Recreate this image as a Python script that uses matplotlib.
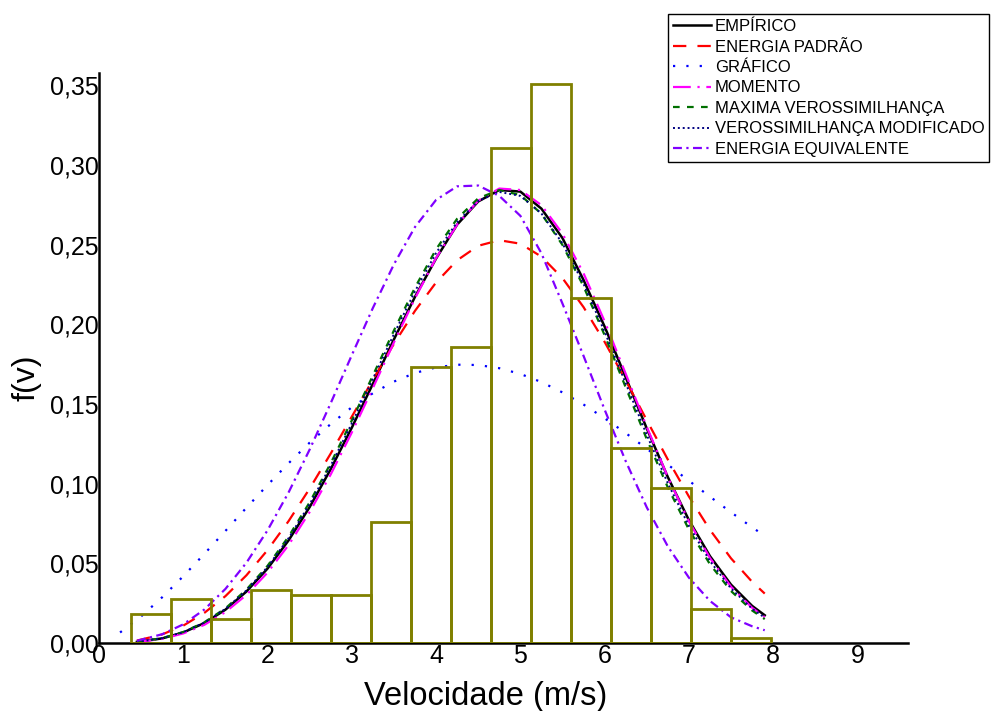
import matplotlib
matplotlib.use("Agg")
import matplotlib.pyplot as plt
import numpy as np

# histogram of observed speeds (bin edges and densities)
bin_edges = [0.375, 0.85, 1.325, 1.8, 2.275, 2.75, 3.225, 3.7, 4.175, 4.65,
             5.125, 5.6, 6.075, 6.55, 7.025, 7.5, 7.975]
hist_vals = [0.0182, 0.0276, 0.0151, 0.0333, 0.0303, 0.0303, 0.0759, 0.1733,
             0.1860, 0.3103, 0.3505, 0.2162, 0.1221, 0.0974, 0.0213, 0.0029]

# fitted curves
v_curve = [0.45, 0.75, 1.0, 1.25, 1.5, 1.75, 2.0, 2.25, 2.5, 2.75, 3.0, 3.25,
           3.5, 3.75, 4.0, 4.25, 4.5, 4.75, 5.0, 5.25, 5.5, 5.75, 6.0, 6.25,
           6.5, 6.75, 7.0, 7.25, 7.5, 7.75, 7.9]
v_graf = [0.25, 0.5] + v_curve[1:]

empirico = [0.0007, 0.0029, 0.0066, 0.0125, 0.0209, 0.0323, 0.0467, 0.0644,
            0.0853, 0.1091, 0.1351, 0.1626, 0.1905, 0.2172, 0.2412, 0.2625,
            0.2770, 0.2842, 0.2832, 0.2725, 0.2540, 0.2277, 0.1985, 0.1667,
            0.1346, 0.1041, 0.0771, 0.0545, 0.0366, 0.0233, 0.0174]
energia_padrao = [0.0015, 0.0054, 0.0109, 0.0189, 0.0294, 0.0425, 0.0583, 0.0765,
                  0.0969, 0.1189, 0.1420, 0.1652, 0.1877, 0.2084, 0.2262, 0.2401,
                  0.2492, 0.2527, 0.2505, 0.2424, 0.2289, 0.2107, 0.1889, 0.1648,
                  0.1398, 0.1151, 0.0919, 0.0710, 0.0531, 0.0384, 0.0310]
grafico = [0.0066, 0.0167, 0.0287, 0.0419, 0.0559, 0.0703, 0.0849, 0.0991,
           0.1128, 0.1257, 0.1374, 0.1479, 0.1567, 0.1640, 0.1694, 0.1729,
           0.1746, 0.1744, 0.1724, 0.1688, 0.1637, 0.1572, 0.1496, 0.1410,
           0.1317, 0.1219, 0.1119, 0.1018, 0.0918, 0.0820, 0.0726, 0.0672]
momento = [0.0006, 0.0026, 0.0060, 0.0114, 0.0194, 0.0302, 0.0442, 0.0615,
           0.0822, 0.1058, 0.1321, 0.1600, 0.1886, 0.2163, 0.2415, 0.2625,
           0.2775, 0.2851, 0.2842, 0.2747, 0.2568, 0.2319, 0.2018, 0.1689,
           0.1356, 0.1041, 0.0764, 0.0533, 0.0353, 0.0221, 0.0162]
max_veros = [0.0007, 0.0030, 0.0069, 0.0130, 0.0217, 0.0335, 0.0484, 0.0668,
             0.0883, 0.1128, 0.1396, 0.1678, 0.1961, 0.2230, 0.2470, 0.2662,
             0.2790, 0.2842, 0.2810, 0.2693, 0.2497, 0.2237, 0.1931, 0.1604,
             0.1279, 0.0976, 0.0712, 0.0494, 0.0326, 0.0204, 0.0150]
veros_mod = [0.0007, 0.0030, 0.0068, 0.0128, 0.0214, 0.0330, 0.0477, 0.0658,
             0.0871, 0.1113, 0.1378, 0.1657, 0.1938, 0.2207, 0.2447, 0.2641,
             0.2773, 0.2830, 0.2805, 0.2695, 0.2507, 0.2253, 0.1953, 0.1630,
             0.1306, 0.1002, 0.0735, 0.0514, 0.0342, 0.0215, 0.0159]
energia_eq = [0.0014, 0.0055, 0.0117, 0.0210, 0.0339, 0.0504, 0.0707, 0.0945,
              0.1214, 0.1505, 0.1806, 0.2102, 0.2376, 0.2610, 0.2780, 0.2865,
              0.2870, 0.2805, 0.2680, 0.2445, 0.2129, 0.1801, 0.1464, 0.1141,
              0.0851, 0.0606, 0.0410, 0.0264, 0.0161, 0.0105, 0.0080]

yticks = [0.0, 0.05, 0.10, 0.15, 0.20, 0.25, 0.30, 0.35]
ytick_labels = ["0,00", "0,05", "0,10", "0,15", "0,20", "0,25", "0,30", "0,35"]

plt.rcParams["font.family"] = ["Liberation Sans", "DejaVu Sans"]

fig = plt.figure(figsize=(9.93, 7.11), dpi=100)
ax = fig.add_axes([99 / 993, 68 / 711, (908 - 99) / 993, (643 - 73) / 711])

ax.plot(v_curve, empirico, color="black", lw=1.8, label="EMPÍRICO")
ax.plot(v_curve, energia_padrao, color="red", lw=1.6, ls=(0, (6, 5)),
        label="ENERGIA PADRÃO")
ax.plot(v_graf, grafico, color="blue", lw=1.6, ls=(0, (1, 5)), label="GRÁFICO")
ax.plot(v_curve, momento, color="magenta", lw=1.6, ls=(0, (8, 3, 1, 3)),
        label="MOMENTO")
ax.plot(v_curve, max_veros, color="#007000", lw=1.6, ls=(0, (3, 3.3)),
        label="MAXIMA VEROSSIMILHANÇA")
ax.plot(v_curve, veros_mod, color="#000080", lw=1.4, ls=(0, (1, 1.5)),
        label="VEROSSIMILHANÇA MODIFICADO")
ax.plot(v_curve, energia_eq, color="#8000ff", lw=1.6, ls=(0, (4, 2, 1, 2)),
        label="ENERGIA EQUIVALENTE")

widths = np.diff(bin_edges)
ax.bar(bin_edges[:-1], hist_vals, width=widths, align="edge", fill=False,
       edgecolor="#808000", linewidth=2, zorder=3)

ax.set_xlim(0, 9.6)
ax.set_ylim(0, 0.3576)
ax.set_xticks(range(10))
ax.set_yticks(yticks)
ax.set_yticklabels(ytick_labels)
ax.tick_params(length=0, labelsize=18, pad=1)
ax.tick_params(axis="y", pad=0)
for s in ["top", "right"]:
    ax.spines[s].set_visible(False)
for s in ["left", "bottom"]:
    ax.spines[s].set_linewidth(1.8)

ax.set_xlabel("Velocidade (m/s)", fontsize=23.5)
ax.xaxis.set_label_coords(0.478, -0.066)
ax.set_ylabel("f(v)", fontsize=23)
ax.yaxis.set_label_coords(-0.0705, 0.465)

leg = ax.legend(loc="upper left", bbox_to_anchor=(668 / 993, 1 - 14 / 711),
                bbox_transform=fig.transFigure, fontsize=12, frameon=True,
                fancybox=False, edgecolor="black", framealpha=1,
                handlelength=2.3, handletextpad=0.2, labelspacing=0.33,
                borderpad=0.3, borderaxespad=0)
leg.get_frame().set_linewidth(1.0)

fig.savefig("out.png", dpi=100)
